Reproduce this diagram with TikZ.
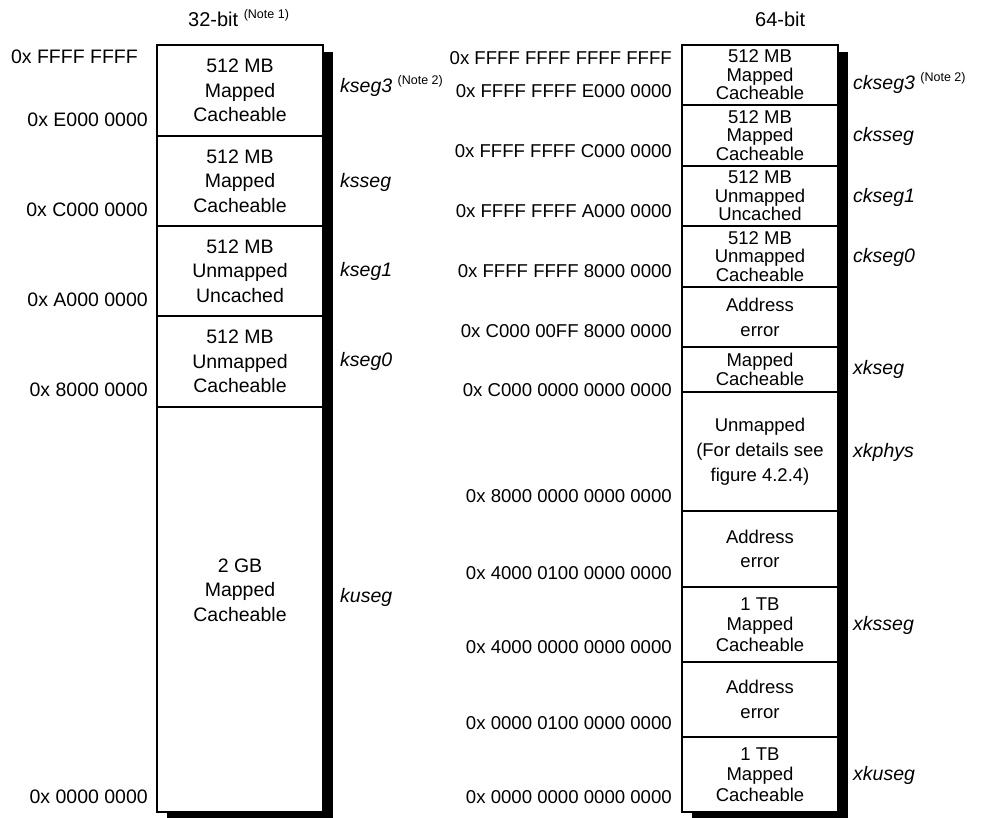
\documentclass[tikz,border=0pt]{standalone}
\usepackage{fontspec}
\setmainfont{Liberation Sans}
\newcommand{\notetext}[1]{\raisebox{8.5pt}{\fontsize{12.5}{14}\selectfont #1}}
\begin{document}
\begin{tikzpicture}[x=1pt,y=-1pt,
  box32/.style={draw, line width=1.6pt, fill=white, inner sep=0pt, align=center,
    minimum width=166pt, font=\fontsize{19.5}{24.5}\selectfont},
  box64/.style={draw, line width=1.6pt, fill=white, inner sep=0pt, align=center,
    minimum width=156pt, font=\fontsize{18.5}{18.5}\selectfont},
  addrA/.style={anchor=base east, inner sep=0pt, font=\fontsize{19.5}{22}\selectfont},
  addrB/.style={anchor=base east, inner sep=0pt, font=\fontsize{18.6}{22}\selectfont},
  seglbl/.style={anchor=base west, inner sep=0pt, font=\fontsize{19.5}{22}\selectfont\itshape},
  head/.style={anchor=base west, inner sep=0pt, font=\fontsize{20}{22}\selectfont},
  shadowfill/.style={fill=black}
]
\useasboundingbox (0,0) rectangle (997,818);

% headers
\node[head] (h32) at (188,27) {32-bit \notetext{(Note 1)}};
\node[head] (h64) at (755,27) {64-bit};

% shadows
\fill[shadowfill] (167,52) rectangle (333,818);
\fill[shadowfill] (692,52) rectangle (848,818);

% 32-bit boxes
\node[box32, minimum height=91pt] (a1) at (240,90.5) {512 MB\\Mapped\\Cacheable};
\node[box32, minimum height=90pt] (a2) at (240,181) {512 MB\\Mapped\\Cacheable};
\node[box32, minimum height=90pt] (a3) at (240,271) {512 MB\\Unmapped\\Uncached};
\node[box32, minimum height=91pt] (a4) at (240,361.5) {512 MB\\Unmapped\\Cacheable};
\node[box32, minimum height=405pt] (a5) at (240,609.5) {};
\node[inner sep=0pt, align=center, font=\fontsize{19.5}{24.5}\selectfont] (a5t) at (240,590) {2 GB\\Mapped\\Cacheable};

% 32-bit addresses
\node[addrA] (p1) at (138,64) {0x FFFF FFFF};
\node[addrA] (p2) at (148,127) {0x E000 0000};
\node[addrA] (p3) at (148,217) {0x C000 0000};
\node[addrA] (p4) at (148,307) {0x A000 0000};
\node[addrA] (p5) at (148,397) {0x 8000 0000};
\node[addrA] (p6) at (148,803) {0x 0000 0000};

% 32-bit segment names
\node[seglbl] (s1) at (340,93) {kseg3 \upshape\notetext{(Note 2)}};
\node[seglbl] (s2) at (340,188) {ksseg};
\node[seglbl] (s3) at (340,277) {kseg1};
\node[seglbl] (s4) at (340,367) {kseg0};
\node[seglbl] (s5) at (340,602) {kuseg};

% 64-bit boxes
\node[box64, minimum height=60pt] (b1) at (760,75) {512 MB\\Mapped\\Cacheable};
\node[box64, minimum height=61pt] (b2) at (760,135.5) {512 MB\\Mapped\\Cacheable};
\node[box64, minimum height=60pt] (b3) at (760,196) {512 MB\\Unmapped\\Uncached};
\node[box64, minimum height=61pt] (b4) at (760,256.5) {512 MB\\Unmapped\\Cacheable};
\node[box64, minimum height=60pt, font=\fontsize{18.5}{25}\selectfont] (b5) at (760,317) {Address\\error};
\node[box64, minimum height=45pt, font=\fontsize{18.5}{16}\selectfont] (b6) at (760,369.5) {Mapped\\Cacheable};
\node[box64, minimum height=119pt, font=\fontsize{18.5}{25}\selectfont] (b7) at (760,451.5) {Unmapped\\(For details see\\figure 4.2.4)};
\node[box64, minimum height=76pt, font=\fontsize{18.5}{24.5}\selectfont] (b8) at (760,549) {Address\\error};
\node[box64, minimum height=75pt, font=\fontsize{18.5}{20.5}\selectfont] (b9) at (760,624.5) {1 TB\\Mapped\\Cacheable};
\node[box64, minimum height=75pt, font=\fontsize{18.5}{25}\selectfont] (b10) at (760,699.5) {Address\\error};
\node[box64, minimum height=75pt, font=\fontsize{18.5}{20.5}\selectfont] (b11) at (760,774.5) {1 TB\\Mapped\\Cacheable};

% 64-bit addresses
\node[addrB] (q1) at (672,65) {0x FFFF FFFF FFFF FFFF};
\node[addrB] (q2) at (672,98) {0x FFFF FFFF E000 0000};
\node[addrB] (q3) at (672,158) {0x FFFF FFFF C000 0000};
\node[addrB] (q4) at (672,218) {0x FFFF FFFF A000 0000};
\node[addrB] (q5) at (672,278) {0x FFFF FFFF 8000 0000};
\node[addrB] (q6) at (672,338) {0x C000 00FF 8000 0000};
\node[addrB] (q7) at (672,397) {0x C000 0000 0000 0000};
\node[addrB] (q8) at (672,502) {0x 8000 0000 0000 0000};
\node[addrB] (q9) at (672,579) {0x 4000 0100 0000 0000};
\node[addrB] (q10) at (672,653) {0x 4000 0000 0000 0000};
\node[addrB] (q11) at (672,729) {0x 0000 0100 0000 0000};
\node[addrB] (q12) at (672,803) {0x 0000 0000 0000 0000};

% 64-bit segment names
\node[seglbl] (t1) at (853,90) {ckseg3 \upshape\notetext{(Note 2)}};
\node[seglbl] (t2) at (853,142) {cksseg};
\node[seglbl] (t3) at (853,203) {ckseg1};
\node[seglbl] (t4) at (853,263) {ckseg0};
\node[seglbl] (t5) at (853,375) {xkseg};
\node[seglbl] (t6) at (853,457) {xkphys};
\node[seglbl] (t7) at (853,630) {xksseg};
\node[seglbl] (t8) at (853,780) {xkuseg};
\end{tikzpicture}
\end{document}
